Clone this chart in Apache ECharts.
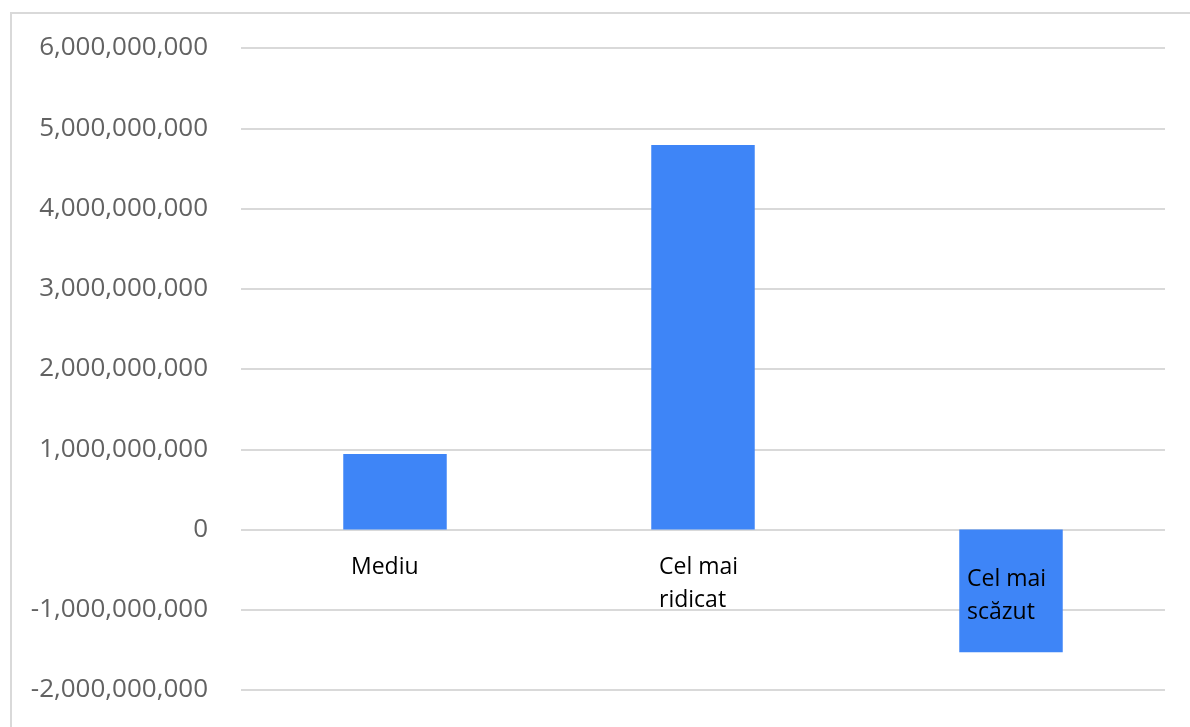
<!DOCTYPE html>
<html>
<head>
<meta charset="utf-8">
<script src="https://cdn.jsdelivr.net/npm/echarts@6/dist/echarts.min.js"></script>
<style>html,body{margin:0;padding:0;background:#fff;}#chart{width:1190px;height:727px;}</style>
</head>
<body>
<div id="chart"></div>
<script>
const categories = ['Mediu', 'Cel mai ridicat', 'Cel mai scăzut'];
const values = [940000000, 4790000000, -1530000000];
const yMin = -2000000000;
const yMax = 6000000000;
const yStep = 1000000000;

const gridTop = 48, gridBottom = 37, chartH = 727;
const plotH = chartH - gridTop - gridBottom;
// offset the category axis from the grid bottom up to the zero line
const zeroOffset = -plotH * (0 - yMin) / (yMax - yMin);

const chart = echarts.init(document.getElementById('chart'));
chart.setOption({
  backgroundColor: '#ffffff',
  animation: false,
  graphic: [{
    type: 'rect', z: 0, silent: true,
    shape: { x: 11, y: 13, width: 1300, height: 900 },
    style: { fill: 'none', stroke: '#d9d9d9', lineWidth: 2 }
  }],
  grid: { left: 241, right: 25, top: gridTop, bottom: gridBottom, containLabel: false, outerBoundsMode: 'none' },
  xAxis: {
    type: 'category',
    data: categories,
    z: 10,
    offset: zeroOffset,
    axisLine: { show: false, onZero: false },
    axisTick: { show: false },
    axisLabel: {
      interval: 0,
      margin: 21,
      align: 'center',
      verticalAlign: 'top',
      formatter: function (v) {
        const idx = categories.indexOf(v);
        const parts = v.startsWith('Cel mai ') ? ['Cel mai', v.slice(8)] : [v];
        const lines = parts.map(p => '{a|' + p + '}');
        if (values[idx] < 0) lines.unshift('{sp| }');
        return lines.join('\n');
      },
      rich: {
        a: { width: 88, align: 'left', fontFamily: 'Open Sans', fontSize: 23, lineHeight: 33, color: '#000000' },
        sp: { width: 88, fontSize: 1, lineHeight: 12 }
      }
    }
  },
  yAxis: {
    type: 'value',
    min: yMin, max: yMax, interval: yStep,
    z: 0,
    axisLine: { show: false },
    axisTick: { show: false },
    splitLine: { lineStyle: { color: '#d9d9d9', width: 2 } },
    axisLabel: {
      margin: 33,
      fontFamily: 'Open Sans',
      fontSize: 26,
      color: '#626262',
      formatter: function (v) { return Number(v).toLocaleString('en-US'); }
    }
  },
  series: [{
    type: 'bar',
    data: values,
    barWidth: '33.6%',
    z: 2,
    itemStyle: { color: '#3e85f7' }
  }]
});
</script>
</body>
</html>
